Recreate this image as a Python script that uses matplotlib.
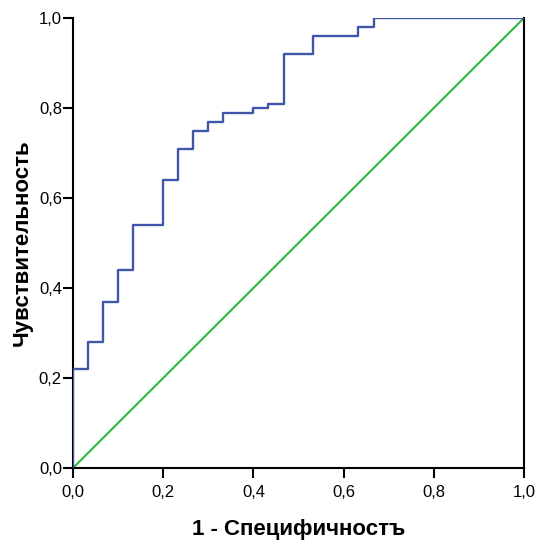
import matplotlib
matplotlib.use("Agg")
import matplotlib.pyplot as plt

# точки ступенчатой ROC-кривой (1 - специфичность, чувствительность)
fpr = [0.0, 0.0, 0.033, 0.067, 0.1, 0.133, 0.2, 0.233, 0.267, 0.3, 0.333,
       0.4, 0.433, 0.467, 0.533, 0.633, 0.667, 1.0]
tpr = [0.0, 0.22, 0.28, 0.37, 0.44, 0.54, 0.64, 0.71, 0.75, 0.77, 0.79,
       0.80, 0.81, 0.92, 0.96, 0.98, 1.0, 1.0]
ref_line = [0.0, 1.0]
ticks = [0.0, 0.2, 0.4, 0.6, 0.8, 1.0]
tick_labels = ["0,0", "0,2", "0,4", "0,6", "0,8", "1,0"]

plt.rcParams['font.family'] = ['Liberation Sans', 'DejaVu Sans']

fig = plt.figure(figsize=(5.37, 5.49), dpi=100)
ax = fig.add_axes([73 / 537, 81 / 549, 451 / 537, 450 / 549])

ax.plot(ref_line, ref_line, color="#2bb843", lw=1.5, zorder=2)
ax.plot(fpr, tpr, drawstyle="steps-post", color="#3f57a8", lw=1.7, zorder=3)

ax.set_xlim(0, 1)
ax.set_ylim(0, 1)
ax.set_xticks(ticks)
ax.set_xticklabels(tick_labels)
ax.set_yticks(ticks)
ax.set_yticklabels(tick_labels)
ax.tick_params(direction="out", length=7, width=1.5, labelsize=12)
ax.tick_params(axis="x", pad=5)
ax.tick_params(axis="y", pad=1)

ax.spines["top"].set_visible(False)
for s in ["left", "bottom", "right"]:
    ax.spines[s].set_linewidth(1.5)

ax.set_xlabel("1 - Специфичностъ", fontsize=16, fontweight="bold", labelpad=14)
ax.set_ylabel("Чувствительность", fontsize=16, fontweight="bold", labelpad=4)

fig.savefig("out.png", dpi=100)
